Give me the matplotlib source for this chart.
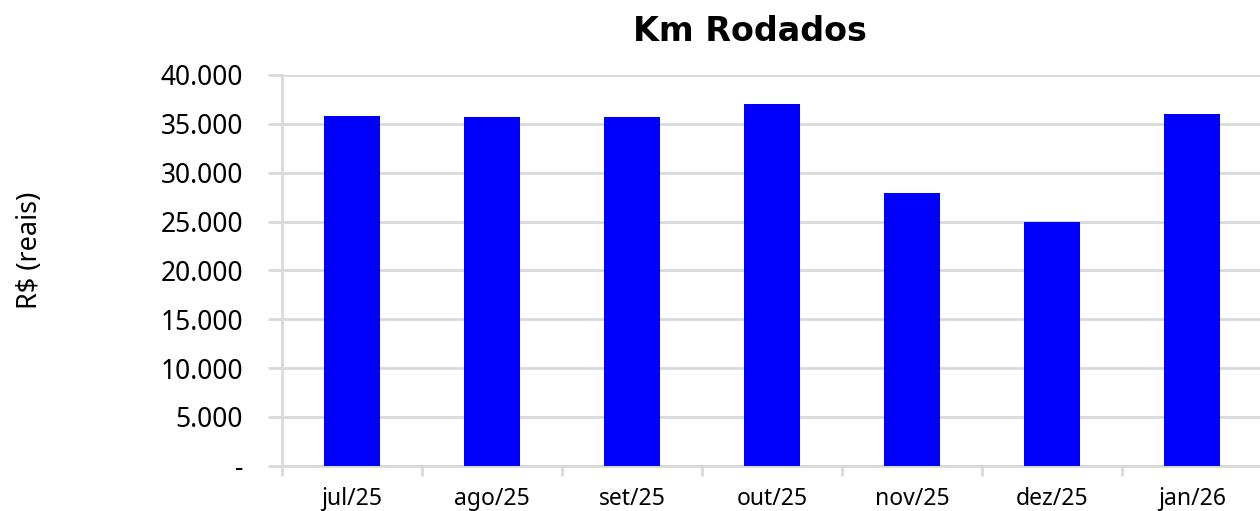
import matplotlib
matplotlib.use("Agg")
import matplotlib.pyplot as plt
from matplotlib.ticker import FuncFormatter, FixedLocator
import numpy as np

plt.rcParams["font.family"] = ["Noto Sans", "DejaVu Sans"]

categories = ["jul/25", "ago/25", "set/25", "out/25", "nov/25", "dez/25", "jan/26"]
values = [35800, 35650, 35650, 37050, 27950, 25000, 36000]
yticks = [0, 5000, 10000, 15000, 20000, 25000, 30000, 35000, 40000]
title = "Km Rodados"
ylabel = "R$ (reais)"

W, H = 1260, 511
fig = plt.figure(figsize=(W / 100, H / 100), dpi=100)
ax = fig.add_axes([282 / W, 1 - 465.7 / H, 980 / W, (465.7 - 75) / H])

x = np.arange(len(categories))
ax.bar(x, values, width=0.405, color="#0000FF", zorder=3)

ax.set_xlim(-0.5, len(categories) - 0.5)
ax.set_ylim(0, 40000)
ax.set_yticks(yticks)


def fmt(v, pos):
    if v == 0:
        return "-"
    return f"{int(v):,}".replace(",", ".")


ax.yaxis.set_major_formatter(FuncFormatter(fmt))
ax.grid(axis="y", color="#d9d9d9", linewidth=2, zorder=0)

grey = "#d9d9d9"
for s in ["top", "right"]:
    ax.spines[s].set_visible(False)
ax.spines["left"].set_color(grey)
ax.spines["left"].set_linewidth(2)
ax.spines["bottom"].set_color(grey)
ax.spines["bottom"].set_linewidth(2)

ax.set_xticks(x)
ax.set_xticklabels(categories)
ax.xaxis.set_minor_locator(FixedLocator(np.arange(-0.5, len(categories), 1.0)))
ax.tick_params(axis="x", which="major", length=0, pad=15, labelsize=16.5)
ax.tick_params(axis="x", which="minor", length=7, width=2, color=grey, direction="out")
ax.tick_params(axis="y", length=10, width=2, color=grey, pad=18, labelsize=19)

fig.text(750 / W, 1 - 31 / H, title, ha="center", va="center", fontsize=24,
         fontweight="bold", family="DejaVu Sans")
fig.text(30 / W, 1 - 250 / H, ylabel, ha="center", va="center", rotation=90, fontsize=19.5)

fig.savefig("out.png", dpi=100)
